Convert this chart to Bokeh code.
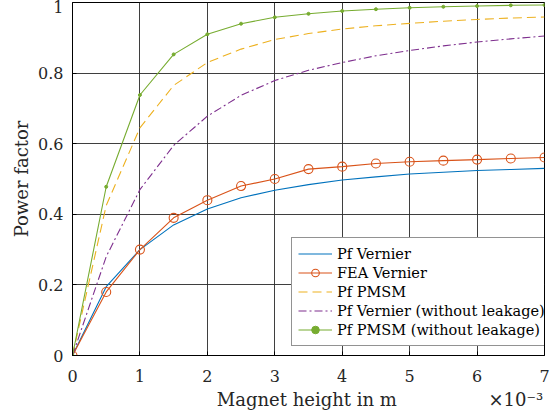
from bokeh.plotting import figure
from bokeh.models import (Range1d, FixedTicker, Legend, LegendItem)
from bokeh.embed import file_html
from bokeh.resources import INLINE

# ---- data (magnet height in units of 1e-3 m) ----
x_mm = [0, 0.5, 1, 1.5, 2, 2.5, 3, 3.5, 4, 4.5, 5, 5.5, 6, 6.5, 7]
pf_vernier = [0, 0.195, 0.30, 0.37, 0.415, 0.447, 0.468, 0.484, 0.497, 0.506, 0.514, 0.519, 0.524, 0.527, 0.530]
fea_vernier = [0, 0.18, 0.30, 0.39, 0.44, 0.48, 0.50, 0.528, 0.535, 0.544, 0.549, 0.552, 0.555, 0.558, 0.561]
pf_pmsm = [0, 0.425, 0.645, 0.765, 0.83, 0.868, 0.895, 0.912, 0.925, 0.934, 0.941, 0.947, 0.952, 0.956, 0.959]
pf_vernier_nl = [0, 0.28, 0.47, 0.595, 0.678, 0.737, 0.779, 0.808, 0.83, 0.849, 0.864, 0.877, 0.888, 0.897, 0.905]
pf_pmsm_nl = [0, 0.478, 0.738, 0.853, 0.91, 0.94, 0.958, 0.968, 0.976, 0.981, 0.985, 0.988, 0.990, 0.992, 0.993]

x_ticks = [0, 1, 2, 3, 4, 5, 6, 7]
x_tick_labels = ["0", "1", "2", "3", "4", "5", "6", "7"]
y_ticks = [0, 0.2, 0.4, 0.6, 0.8, 1]
y_tick_labels = ["0", "0.2", "0.4", "0.6", "0.8", "1"]

series_names = ["Pf Vernier", "FEA Vernier", "Pf PMSM",
                "Pf Vernier (without leakage)", "Pf PMSM (without leakage)"]
x_title = "Magnet height in m"
x_exponent = "\u00d710\u207b\u00b3"
y_title = "Power factor"

FONT = "DejaVu Serif"
BLUE, ORANGE, YELLOW, PURPLE, GREEN = "#0072BD", "#D95319", "#EDB120", "#7E2F8E", "#77AC30"

NB = "\u00a0"

p = figure(width=553, height=418, output_backend="svg", toolbar_location=None,
           x_range=Range1d(0, 7), y_range=Range1d(0, 1),
           min_border_left=72, min_border_right=9, min_border_top=2, min_border_bottom=63)

p.outline_line_color = "#000000"
p.outline_line_width = 1
p.background_fill_color = "white"
p.border_fill_color = "white"

for ax in (p.xaxis[0], p.yaxis[0]):
    ax.axis_line_color = "#000000"
    ax.major_tick_in = 4
    ax.major_tick_out = 0
    ax.minor_tick_line_color = None
    ax.major_tick_line_color = "#000000"
    ax.major_label_text_font = FONT
    ax.major_label_text_font_size = "16px"
    ax.major_label_text_color = "#262626"
    ax.axis_label_text_font = FONT
    ax.axis_label_text_font_size = "18px"
    ax.axis_label_text_font_style = "normal"
    ax.axis_label_text_color = "#262626"

p.xaxis.ticker = FixedTicker(ticks=x_ticks)
p.xaxis.major_label_overrides = {t: l for t, l in zip(x_ticks, x_tick_labels)}
p.yaxis.ticker = FixedTicker(ticks=y_ticks)
p.yaxis.major_label_overrides = {t: l for t, l in zip(y_ticks, y_tick_labels)}
# x title with the axis multiplier placed at the right end of the same line
p.xaxis.axis_label = NB * 25 + x_title + NB * 16 + x_exponent
p.yaxis.axis_label = y_title
p.xaxis.major_label_standoff = 14
p.yaxis.major_label_standoff = 9
p.xaxis.axis_label_standoff = 4
p.yaxis.axis_label_standoff = 3

p.xgrid.ticker = FixedTicker(ticks=x_ticks)
p.ygrid.ticker = FixedTicker(ticks=y_ticks)
p.grid.grid_line_color = "#2a2a2a"
p.grid.grid_line_alpha = 0.9
p.grid.grid_line_width = 1

r_blue = p.line(x_mm, pf_vernier, line_color=BLUE, line_width=1.1)
r_or_l = p.line(x_mm, fea_vernier, line_color=ORANGE, line_width=1.1)
r_or_m = p.scatter(x_mm, fea_vernier, marker="circle", size=9, fill_color=None,
                   line_color=ORANGE, line_width=1.1)
r_yel = p.line(x_mm, pf_pmsm, line_color=YELLOW, line_width=1.1, line_dash="9 5")
r_pur = p.line(x_mm, pf_vernier_nl, line_color=PURPLE, line_width=1.1, line_dash="8 3 2 3")
r_gr_l = p.line(x_mm, pf_pmsm_nl, line_color=GREEN, line_width=1.1)
r_gr_m = p.scatter(x_mm, pf_pmsm_nl, marker="circle", size=3, fill_color=GREEN, line_color=GREEN)

legend = Legend(items=[
    LegendItem(label=series_names[0], renderers=[r_blue]),
    LegendItem(label=series_names[1], renderers=[r_or_l, r_or_m]),
    LegendItem(label=series_names[2], renderers=[r_yel]),
    LegendItem(label=series_names[3], renderers=[r_pur]),
    LegendItem(label=series_names[4], renderers=[r_gr_l, r_gr_m]),
], location=(219, 9))
legend.label_text_font = FONT
legend.label_text_font_size = "14.5px"
legend.label_text_color = "#000000"
legend.glyph_width = 34
legend.glyph_height = 19
legend.label_height = 19
legend.label_standoff = 5
legend.spacing = 0
legend.padding = 6
legend.margin = 0
legend.border_line_color = "#262626"
legend.border_line_width = 1
legend.background_fill_color = "white"
legend.background_fill_alpha = 1
p.add_layout(legend, "center")

open("out.html", "w").write(file_html(p, INLINE))
